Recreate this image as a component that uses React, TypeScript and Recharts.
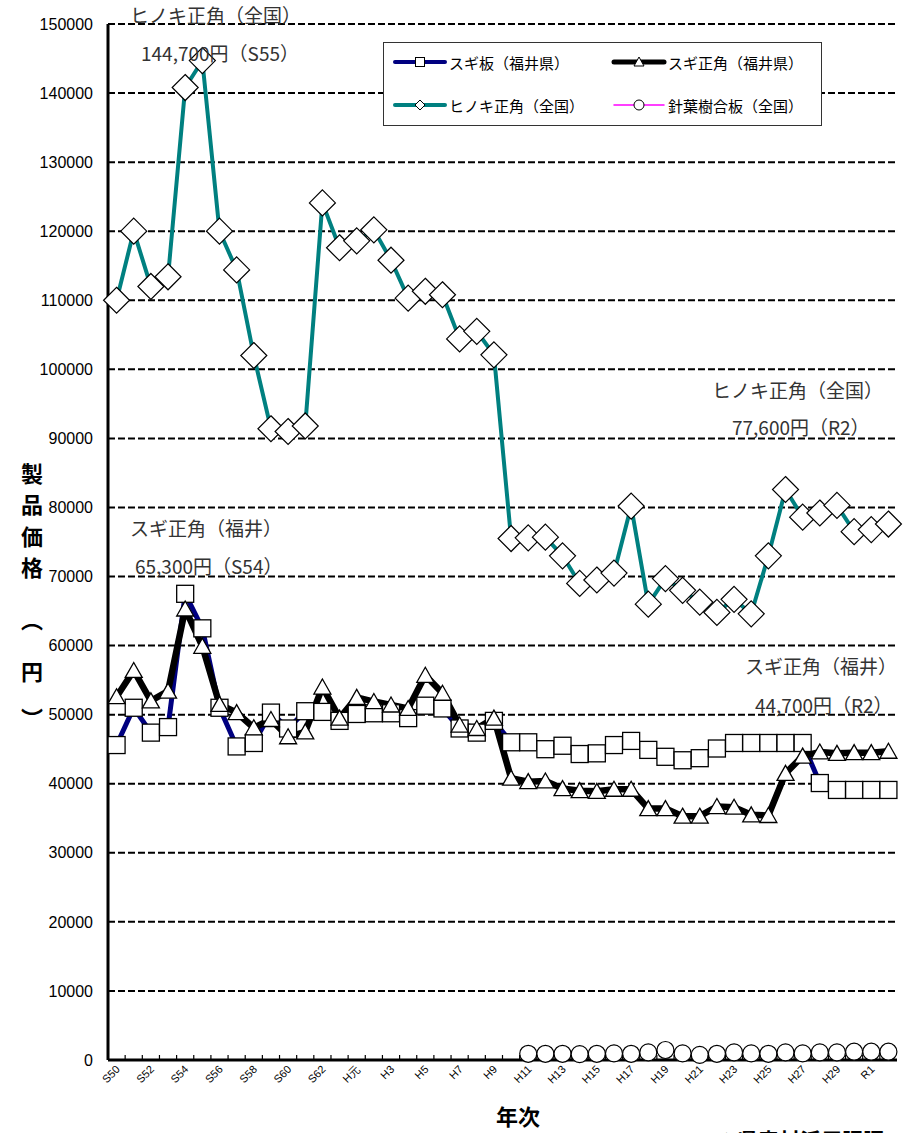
import React from "react";
import { LineChart, Line, XAxis, YAxis, CartesianGrid, Legend } from "recharts";

const years = [
  "S50", "S51", "S52", "S53", "S54", "S55", "S56", "S57", "S58", "S59",
  "S60", "S61", "S62", "S63", "H元", "H2", "H3", "H4", "H5", "H6",
  "H7", "H8", "H9", "H10", "H11", "H12", "H13", "H14", "H15", "H16",
  "H17", "H18", "H19", "H20", "H21", "H22", "H23", "H24", "H25", "H26",
  "H27", "H28", "H29", "H30", "R1", "R2",
];

// スギ板（福井県）
const sugiIta = [
  45600, 51000, 47400, 48200, 67500, 62500, 51000, 45400, 45900, 50300,
  48000, 50500, 50400, 49100, 50100, 50200, 50200, 49500, 51300, 50900,
  48000, 47400, 49100, 46000, 46000, 45000, 45500, 44300, 44400, 45600,
  46200, 44900, 43900, 43400, 43700, 45100, 45900, 45900, 45900, 45900,
  45900, 40100, 39100, 39100, 39100, 39100,
];

// スギ正角（福井県）
const sugiKaku = [
  52600, 56400, 52000, 53400, 65300, 59900, 51500, 50300, 48100, 49300,
  46800, 47500, 54000, 49500, 52500, 51900, 51400, 50900, 55700, 53100,
  48500, 48000, 49500, 40800, 40300, 40400, 39300, 39000, 38900, 39200,
  39200, 36400, 36400, 35300, 35300, 36700, 36600, 35500, 35400, 41500,
  44000, 44600, 44400, 44500, 44500, 44700,
];

// ヒノキ正角（全国）
const hinoki = [
  110000, 120000, 112000, 113400, 140800, 144700, 120000, 114400, 102000, 91400,
  91000, 91800, 124100, 117600, 118600, 120200, 115800, 110300, 111300, 110800,
  104400, 105500, 102100, 75500, 75600, 75700, 73000, 69000, 69500, 70500,
  80200, 66000, 69700, 68000, 66300, 64800, 66700, 64600, 73000, 82600,
  78600, 79200, 80300, 76500, 76800, 77600,
];

// 針葉樹合板（全国）
const gouhan = [
  null, null, null, null, null, null, null, null, null, null,
  null, null, null, null, null, null, null, null, null, null,
  null, null, null, null, 900, 900, 900, 850, 900, 950,
  900, 1100, 1450, 950, 750, 900, 1100, 950, 900, 1100,
  950, 1100, 1100, 1200, 1200, 1200,
];

const yTicks = [
  0, 10000, 20000, 30000, 40000, 50000, 60000, 70000, 80000, 90000,
  100000, 110000, 120000, 130000, 140000, 150000,
];

const rows = years.map((year, i) => ({
  year,
  sugiIta: sugiIta[i],
  sugiKaku: sugiKaku[i],
  hinoki: hinoki[i],
  gouhan: gouhan[i],
}));

const W = 917;
const H = 1133;
const PLOT_LEFT = 108;
const PLOT_RIGHT = 20;
const PLOT_W = W - PLOT_LEFT - PLOT_RIGHT;
const STEP = PLOT_W / years.length;

const JP = '"Noto Sans CJK JP", "Noto Sans", sans-serif';
const LAT = '"Liberation Sans", Arial, sans-serif';

const SquareDot = (props: any) => {
  const { cx, cy, index, value } = props;
  if (value == null || cx == null) return <g key={index} />;
  return <rect key={index} x={cx - 8.5} y={cy - 8.5} width={17} height={17} fill="#fff" stroke="#000" strokeWidth={1.3} />;
};

const TriDot = (props: any) => {
  const { cx, cy, index, value } = props;
  if (value == null || cx == null) return <g key={index} />;
  return (
    <polygon key={index} points={`${cx},${cy - 8} ${cx + 8.5},${cy + 7} ${cx - 8.5},${cy + 7}`}
      fill="#fff" stroke="#000" strokeWidth={1.3} />
  );
};

const DiamondDot = (props: any) => {
  const { cx, cy, index, value } = props;
  if (value == null || cx == null) return <g key={index} />;
  return (
    <polygon key={index} points={`${cx},${cy - 13} ${cx + 13},${cy} ${cx},${cy + 13} ${cx - 13},${cy}`}
      fill="#fff" stroke="#000" strokeWidth={1.2} />
  );
};

const CircleDot = (props: any) => {
  const { cx, cy, index, value } = props;
  if (value == null || cx == null) return <g key={index} />;
  return <circle key={index} cx={cx} cy={cy} r={8.5} fill="#fff" stroke="#000" strokeWidth={1.2} />;
};

const YearTick = (props: any) => {
  const { x, y, payload, index } = props;
  const bx = x + STEP / 2;
  return (
    <g>
      {index < years.length - 1 && <line x1={bx} y1={y - 5} x2={bx} y2={y} stroke="#000" strokeWidth={1.2} />}
      {index % 2 === 0 && (
        <text x={x + 4} y={y + 10} textAnchor="end" fontSize={11} fontFamily={LAT} fill="#000"
          transform={`rotate(-45 ${x + 4} ${y + 10})`}>
          {payload.value}
        </text>
      )}
    </g>
  );
};

const legendItems = [
  { name: "スギ板（福井県）", color: "#000080", width: 4, mark: "square", col: 0, row: 0 },
  { name: "スギ正角（福井県）", color: "#000000", width: 5, mark: "tri", col: 1, row: 0 },
  { name: "ヒノキ正角（全国）", color: "#008080", width: 4, mark: "diamond", col: 0, row: 1 },
  { name: "針葉樹合板（全国）", color: "#ff00ff", width: 1.5, mark: "circle", col: 1, row: 1 },
];

const LegendBox = () => (
  <svg width={440} height={85} style={{ display: "block" }}>
    <rect x={0.5} y={0.5} width={438} height={83} fill="#fff" stroke="#333" strokeWidth={1} />
    {legendItems.map((it) => {
      const x0 = it.col === 0 ? 12 : 231;
      const cy = it.row === 0 ? 20 : 63;
      const mx = x0 + 25;
      let m: React.ReactNode = null;
      if (it.mark === "square") m = <rect x={mx - 4.5} y={cy - 4.5} width={9} height={9} fill="#fff" stroke="#000" />;
      if (it.mark === "tri") m = <polygon points={`${mx},${cy - 5} ${mx + 5},${cy + 4} ${mx - 5},${cy + 4}`} fill="#fff" stroke="#000" />;
      if (it.mark === "diamond") m = <polygon points={`${mx},${cy - 5} ${mx + 5},${cy} ${mx},${cy + 5} ${mx - 5},${cy}`} fill="#fff" stroke="#000" />;
      if (it.mark === "circle") m = <circle cx={mx} cy={cy} r={5} fill="#fff" stroke="#000" />;
      return (
        <g key={it.name}>
          <line x1={x0} y1={cy} x2={x0 + 50} y2={cy} stroke={it.color} strokeWidth={it.width} strokeLinecap="round" />
          {m}
          <text x={x0 + 54} y={cy} dominantBaseline="central" fontSize={15} fontFamily={JP} fill="#000">
            {it.name}
          </text>
        </g>
      );
    })}
  </svg>
);

const notes = [
  { text: "ヒノキ正角（全国）", x: 130, y: 14 },
  { text: "144,700円（S55）", x: 141, y: 52 },
  { text: "スギ正角（福井）", x: 130, y: 527 },
  { text: "65,300円（S54）", x: 135, y: 565 },
  { text: "ヒノキ正角（全国）", x: 712, y: 389 },
  { text: "77,600円（R2）", x: 732, y: 426 },
  { text: "スギ正角（福井）", x: 745, y: 665 },
  { text: "44,700円（R2）", x: 755, y: 704 },
];

const yTitle = [
  { ch: "製", y: 472 },
  { ch: "品", y: 503 },
  { ch: "価", y: 535 },
  { ch: "格", y: 566 },
  { ch: "︵", y: 618 },
  { ch: "円", y: 670 },
  { ch: "︶", y: 717 },
];

export default function App() {
  return (
    <div style={{ position: "absolute", left: 0, top: 0, width: W, height: H, overflow: "hidden", background: "#fff" }}>
      <LineChart width={W} height={H} data={rows} margin={{ top: 24, right: PLOT_RIGHT, bottom: 33, left: 8 }}>
        <CartesianGrid vertical={false} stroke="#000" strokeWidth={2} strokeDasharray="7 3" />
        <XAxis
          dataKey="year"
          interval={0}
          height={40}
          padding={{ left: STEP / 2, right: STEP / 2 }}
          tickLine={false}
          tickSize={0}
          tickMargin={0}
          axisLine={{ stroke: "#000", strokeWidth: 3 }}
          tick={<YearTick />}
        />
        <YAxis
          width={100}
          domain={[0, 150000]}
          ticks={yTicks}
          interval={0}
          tickLine={false}
          tickSize={0}
          tickMargin={15}
          axisLine={{ stroke: "#000", strokeWidth: 3 }}
          tick={{ fontSize: 16, fill: "#000", fontFamily: LAT }}
        />
        <YAxis
          yAxisId="r"
          orientation="right"
          width={0}
          domain={[0, 150000]}
          ticks={yTicks}
          tick={false}
          tickLine={false}
          axisLine={{ stroke: "#000", strokeWidth: 2 }}
        />
        <Legend
          layout="horizontal"
          verticalAlign="middle"
          align="center"
          wrapperStyle={{ left: 383, top: 42, width: 440, height: 85 }}
          content={() => <LegendBox />}
        />
        <Line type="linear" dataKey="sugiIta" stroke="#000080" strokeWidth={5} dot={SquareDot} isAnimationActive={false} />
        <Line type="linear" dataKey="sugiKaku" stroke="#000000" strokeWidth={6.5} dot={TriDot} isAnimationActive={false} />
        <Line type="linear" dataKey="hinoki" stroke="#008080" strokeWidth={4} dot={DiamondDot} isAnimationActive={false} />
        <Line type="linear" dataKey="gouhan" stroke="#ff00ff" strokeWidth={1.5} dot={CircleDot} isAnimationActive={false} />
      </LineChart>
      <svg width={W} height={H} style={{ position: "absolute", left: 0, top: 0, pointerEvents: "none" }}>
        {notes.map((n, i) => (
          <text key={i} x={n.x} y={n.y} dominantBaseline="central" fontSize={19} fontFamily={JP} fill="#333">
            {n.text}
          </text>
        ))}
        {yTitle.map((c) => (
          <text key={c.ch} x={32} y={c.y} textAnchor="middle" dominantBaseline="central" fontSize={22}
            fontWeight="bold" fontFamily={JP} fill="#000">
            {c.ch}
          </text>
        ))}
        <text x={518} y={1115} textAnchor="middle" dominantBaseline="central" fontSize={22} fontWeight="bold"
          fontFamily={JP} fill="#000">
          年次
        </text>
        <text x={716} y={1148} fontSize={21} fontWeight="bold" fontFamily={JP} fill="#000">
          ※県産材活用課調
        </text>
      </svg>
    </div>
  );
}
